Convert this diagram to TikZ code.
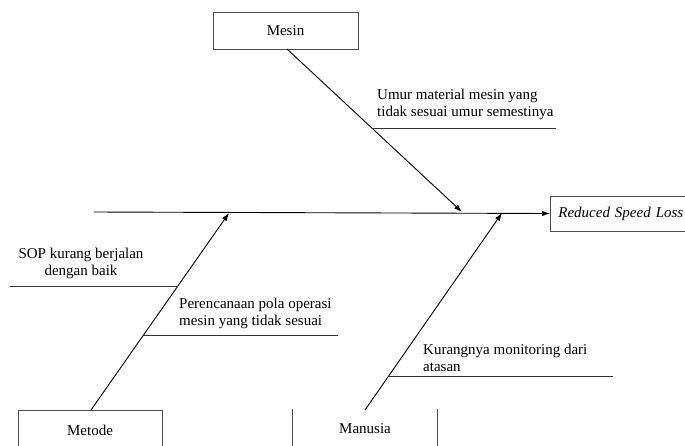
\documentclass[tikz,border=0pt]{standalone}
\usepackage{fontspec}
\setmainfont{Liberation Serif}
\usetikzlibrary{arrows.meta}
\begin{document}
\begin{tikzpicture}[x=1pt,y=-1pt,
  box/.style={draw=black!70, line width=0.7pt, inner sep=0pt, font=\fontsize{15}{16.5}\selectfont},
  txt/.style={font=\fontsize{15}{16.5}\selectfont, inner sep=0pt},
  bone/.style={line width=0.9pt, -{Latex[length=8pt,width=5.5pt]}},
  sub/.style={line width=0.9pt, draw=black!80}]
\useasboundingbox (0,0) rectangle (685,445);
% category boxes
\node[box, minimum width=145pt, minimum height=37pt] (mesin) at (285.5,30.5) {Mesin};
\node[box, anchor=north, minimum width=144pt, minimum height=40pt] (metode) at (90,410) {Metode};
\node[txt, anchor=north, minimum width=144pt, minimum height=38pt] (manusia) at (365,409) {Manusia};
\draw[draw=black!70, line width=0.7pt] (manusia.north west) -- (manusia.south west);
\draw[draw=black!70, line width=0.7pt] (manusia.north east) -- (manusia.south east);
% effect
\node[box, anchor=west, minimum width=150pt, minimum height=35pt, text width=134pt, inner xsep=8pt, align=left] (effect) at (550,213.5) {\itshape Reduced Speed Loss};
% spine
\coordinate (spineL) at (94,212);
\draw[bone] (spineL) -- (effect.west);
% bones
\coordinate (mesinS) at (287,49);
\coordinate (mesinT) at (462,212);
\coordinate (metodeS) at (91,410);
\coordinate (metodeT) at (229,213);
\coordinate (manusiaS) at (365,410);
\coordinate (manusiaT) at (502,213);
\draw[bone] (mesinS) -- (mesinT);
\draw[bone] (metodeS) -- (metodeT);
\draw[bone] (manusiaS) -- (manusiaT);
% sub causes
\coordinate (umurL) at (372,128);
\coordinate (umurR) at (556,128);
\draw[sub] (umurL) -- (umurR);
\node[txt, anchor=north west, align=left] (umur) at (377,89) {Umur material mesin yang\\tidak sesuai umur semestinya};
\coordinate (sopL) at (10,286);
\coordinate (sopR) at (178,286);
\draw[sub] (sopL) -- (sopR);
\node[txt, anchor=north, align=center] (sop) at (81,248) {SOP kurang berjalan\\dengan baik};
\coordinate (perL) at (143,335);
\coordinate (perR) at (338,335);
\draw[sub] (perL) -- (perR);
\node[txt, anchor=north west, align=left] (per) at (179,298) {Perencanaan pola operasi\\mesin yang tidak sesuai};
\coordinate (kurL) at (388,376);
\coordinate (kurR) at (613,376);
\draw[sub] (kurL) -- (kurR);
\node[txt, anchor=north west, align=left] (kur) at (423,344) {Kurangnya monitoring dari\\atasan};
\end{tikzpicture}
\end{document}
